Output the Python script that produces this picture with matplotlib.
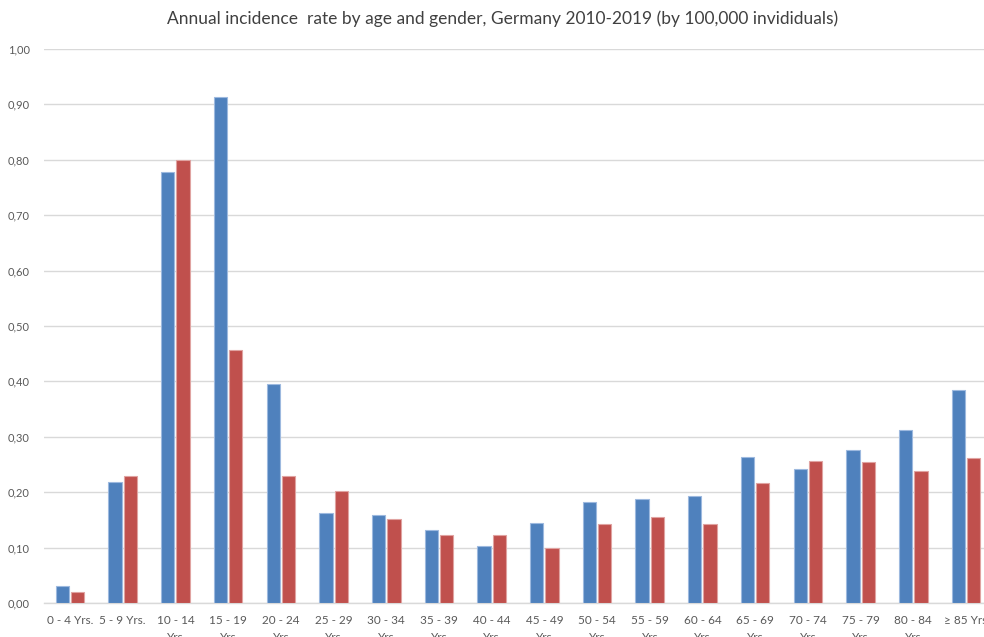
import matplotlib
matplotlib.use("Agg")
import matplotlib.pyplot as plt
import numpy as np

categories = ["0 - 4 Yrs.", "5 - 9 Yrs.", "10 - 14\nYrs", "15 - 19\nYrs", "20 - 24\nYrs",
              "25 - 29\nYrs", "30 - 34\nYrs", "35 - 39\nYrs", "40 - 44\nYrs", "45 - 49\nYrs",
              "50 - 54\nYrs", "55 - 59\nYrs", "60 - 64\nYrs", "65 - 69\nYrs", "70 - 74\nYrs",
              "75 - 79\nYrs", "80 - 84\nYrs", "\u2265 85 Yrs"]
male = [0.031, 0.218, 0.778, 0.913, 0.395, 0.162, 0.159, 0.132, 0.102, 0.144,
        0.182, 0.187, 0.193, 0.264, 0.242, 0.276, 0.313, 0.385]
female = [0.020, 0.229, 0.800, 0.457, 0.229, 0.203, 0.152, 0.122, 0.122, 0.100,
          0.142, 0.155, 0.142, 0.217, 0.256, 0.255, 0.239, 0.262]
yticks = [0.0, 0.1, 0.2, 0.3, 0.4, 0.5, 0.6, 0.7, 0.8, 0.9, 1.0]
ytick_labels = ["0,00", "0,10", "0,20", "0,30", "0,40", "0,50", "0,60", "0,70", "0,80", "0,90", "1,00"]
title = "Annual incidence  rate by age and gender, Germany 2010-2019 (by 100,000 invididuals)"

plt.rcParams['font.family'] = ['Lato', 'DejaVu Sans']

W, H = 984, 637
fig = plt.figure(figsize=(W / 100, H / 100), dpi=100)
left, right, top, bottom = 43.6, 992.4, 49, 603
ax = fig.add_axes([left / W, 1 - bottom / H, (right - left) / W, (bottom - top) / H])

x = np.arange(len(categories))
w = 0.252
off = 0.145
ax.bar(x - off, male, width=w, color="#4F81BD", edgecolor="#9DB9DF", linewidth=0.8, zorder=3)
ax.bar(x + off, female, width=w, color="#C0504D", edgecolor="#E0A3A1", linewidth=0.8, zorder=3)

ax.set_xlim(-0.5, len(categories) - 0.5)
ax.set_ylim(0, 1.0)
ax.set_yticks(yticks)
ax.set_yticklabels(ytick_labels, fontsize=8, color="#595959")
ax.set_xticks(x)
ax.set_xticklabels(categories, fontsize=8.5, color="#595959", linespacing=1.6)
ax.tick_params(axis="both", length=0)
ax.tick_params(axis="x", pad=9)
ax.tick_params(axis="y", pad=10)
ax.yaxis.grid(True, color="#D9D9D9", linewidth=1, zorder=0)
ax.set_axisbelow(True)
for s in ["top", "right", "left"]:
    ax.spines[s].set_visible(False)
ax.spines["bottom"].set_color("#D9D9D9")
ax.spines["bottom"].set_linewidth(1)

fig.text(503 / W, 1 - 19 / H, title, ha="center", va="center", fontsize=12.5, color="#404040")

fig.savefig("out.png", dpi=100)
